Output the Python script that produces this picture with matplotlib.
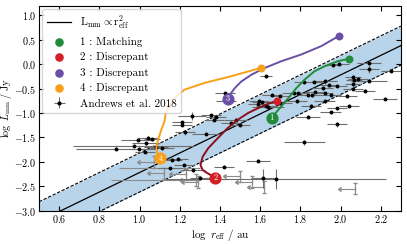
import matplotlib.pyplot as plt
import numpy as np

plt.rcParams.update({
    "font.family": "serif",
    "font.serif": ["cmr10"],
    "mathtext.fontset": "cm",
    "axes.formatter.use_mathtext": True,
    "font.size": 8,
    "axes.unicode_minus": True,
})

# relation L_mm ~ r_eff^2 and its scatter band
rel_slope = 2.0
rel_icpt = -4.22
rel_scatter = 0.4

# Andrews et al. 2018 detections: log r_eff, log L_mm, xerr, yerr
det_x = [1.99, 1.96, 2.14, 2.14, 2.25, 1.92, 1.94, 1.91, 1.87, 1.98, 2.06, 2.065, 2.085, 2.14,
         2.06, 2.06, 2.12, 2.03, 2.22, 1.84, 1.86, 1.92, 1.92, 2.04, 1.98, 1.95, 1.855, 1.84,
         1.98, 1.82, 1.82, 1.63, 1.43, 1.595, 1.61, 1.77, 1.79, 1.785, 1.875, 1.95, 1.64, 1.66,
         1.70, 1.70, 1.59, 1.63, 1.425, 1.26, 1.21, 1.355, 1.37, 1.48, 1.50, 1.38, 1.21, 1.225,
         1.33, 1.455, 0.99, 1.03, 0.97, 1.04, 1.06, 0.885, 0.995, 1.025, 1.08, 1.11, 1.19, 1.22,
         1.265, 1.30, 1.42, 1.39, 1.587, 1.615, 1.677, 1.16, 1.15]
det_y = [0.01, -0.02, 0.03, -0.10, -0.13, -0.35, -0.43, -0.49, -0.36, -0.44, -0.26, -0.33, -0.30, -0.34,
         -0.41, -0.50, -0.54, -0.65, -0.71, -0.63, -0.64, -0.60, -0.76, -0.85, -0.90, -0.99, -0.85, -1.08,
         -1.23, -1.60, -0.37, -0.25, -0.76, -0.75, -0.78, -0.59, -0.60, -0.76, -0.56, -0.63, -0.87, -0.63,
         -0.65, -0.80, -0.81, -0.85, -0.59, -1.07, -1.19, -1.05, -1.14, -1.14, -1.24, -1.08, -1.24, -1.40,
         -1.43, -1.21, -1.55, -1.62, -1.67, -1.51, -1.54, -1.73, -1.73, -1.80, -1.70, -1.72, -1.94, -2.06,
         -2.17, -2.33, -2.10, -2.36, -1.98, -2.34, -2.35, -1.96, -2.13]
det_xerr = [0.05, 0.04, 0.06, 0.05, 0.05, 0.06, 0.04, 0.05, 0.06, 0.05, 0.04, 0.04, 0.05, 0.09,
            0.04, 0.05, 0.05, 0.05, 0.06, 0.05, 0.04, 0.04, 0.05, 0.05, 0.05, 0.05, 0.05, 0.06,
            0.05, 0.10, 0.05, 0.03, 0.05, 0.05, 0.05, 0.06, 0.05, 0.05, 0.05, 0.05, 0.08, 0.05,
            0.05, 0.06, 0.05, 0.05, 0.05, 0.07, 0.05, 0.05, 0.05, 0.06, 0.05, 0.05, 0.05, 0.05,
            0.07, 0.05, 0.08, 0.07, 0.30, 0.05, 0.04, 0.20, 0.05, 0.05, 0.06, 0.06, 0.05, 0.05,
            0.06, 0.05, 0.05, 0.05, 0.06, 0.06, 0.55, 0.05, 0.06]
det_yerr = [0.03, 0.03, 0.05, 0.08, 0.03, 0.05, 0.03, 0.03, 0.03, 0.03, 0.03, 0.03, 0.03, 0.03,
            0.03, 0.03, 0.03, 0.03, 0.03, 0.03, 0.03, 0.03, 0.03, 0.03, 0.03, 0.03, 0.03, 0.03,
            0.05, 0.05, 0.03, 0.03, 0.03, 0.03, 0.03, 0.03, 0.03, 0.03, 0.03, 0.03, 0.03, 0.03,
            0.03, 0.03, 0.03, 0.03, 0.03, 0.08, 0.03, 0.03, 0.03, 0.03, 0.03, 0.03, 0.03, 0.05,
            0.03, 0.03, 0.03, 0.03, 0.03, 0.03, 0.03, 0.03, 0.03, 0.03, 0.03, 0.03, 0.03, 0.03,
            0.03, 0.03, 0.03, 0.03, 0.03, 0.20, 0.20, 0.03, 0.03]

# faint detections with wide size errors (grey)
faint_x = [1.10, 1.08]
faint_y = [-2.13, -2.37]
faint_xerr = [0.20, 0.22]

# upper limits on r_eff
lim_x = [1.07, 1.12, 1.23, 1.28, 1.29, 1.56, 1.62, 2.07, 1.50]
lim_y = [-2.00, -2.24, -2.26, -2.38, -2.42, -2.41, -2.51, -2.55, -2.30]

# model tracks (log r_eff, log L_mm), start -> end
trk1_x = [1.657, 1.705, 1.747, 1.780, 1.821, 1.870, 1.920, 1.986, 2.040]
trk1_y = [-1.093, -0.866, -0.660, -0.490, -0.317, -0.146, -0.043, 0.060, 0.109]
trk2_x = [1.377, 1.339, 1.314, 1.303, 1.314, 1.342, 1.389, 1.438, 1.488, 1.540, 1.590, 1.628, 1.682]
trk2_y = [-2.327, -2.237, -2.170, -2.066, -1.895, -1.720, -1.516, -1.310, -1.140, -1.000, -0.900, -0.830, -0.749]
trk3_x = [1.441, 1.449, 1.474, 1.507, 1.557, 1.623, 1.705, 1.804, 1.903, 1.990]
trk3_y = [-0.714, -0.626, -0.488, -0.352, -0.214, -0.077, 0.060, 0.198, 0.368, 0.574]
trk4_x = [1.104, 1.090, 1.083, 1.092, 1.108, 1.124, 1.130, 1.144, 1.174, 1.223, 1.322, 1.454, 1.603]
trk4_y = [-1.930, -1.850, -1.722, -1.551, -1.346, -1.170, -1.000, -0.900, -0.694, -0.523, -0.385, -0.249, -0.077]

tracks = [
    (trk1_x, trk1_y, "#218a3c", "#218a3c", "1 : Matching"),
    (trk2_x, trk2_y, "#8b0f1e", "#d41f26", "2 : Discrepant"),
    (trk3_x, trk3_y, "#6a4fa5", "#6a4fa5", "3 : Discrepant"),
    (trk4_x, trk4_y, "#f9a01b", "#f9a01b", "4 : Discrepant"),
]


def main() -> None:
    fig = plt.figure(figsize=(4.07, 2.44), dpi=100)
    ax = fig.add_axes([0.096, 0.137, 0.889, 0.84])

    xx = np.array([0.5, 2.3])
    yc = rel_slope * xx + rel_icpt
    ax.fill_between(xx, yc - rel_scatter, yc + rel_scatter, color="#b8d4ea", lw=0, zorder=1)
    ax.plot(xx, yc, "-k", lw=0.9, zorder=2, label=r"$\mathrm{L_{mm}} \propto \mathrm{r_{eff}^2}$")
    ax.plot(xx, yc + rel_scatter, "--k", lw=0.8, dashes=(3, 1.5), zorder=2)
    ax.plot(xx, yc - rel_scatter, "--k", lw=0.8, dashes=(3, 1.5), zorder=2)

    grey = "#8c8c8c"
    ax.errorbar(lim_x, lim_y, xerr=0.07, yerr=0.12, xuplims=True, fmt="none",
                ecolor=grey, color=grey, elinewidth=0.8, capsize=1.3, zorder=3)
    ax.errorbar(faint_x, faint_y, xerr=faint_xerr, fmt="none", ecolor=grey,
                elinewidth=0.8, capsize=0, zorder=3)
    ax.errorbar(det_x, det_y, xerr=det_xerr, yerr=det_yerr, fmt="o", ms=1.8, color="k",
                ecolor="#6e6e6e", elinewidth=0.8, capsize=0, zorder=4, label="Andrews et al. 2018")

    for i, (tx, ty, lc, dc, lab) in enumerate(tracks):
        ax.plot(tx, ty, "-", color=lc, lw=1.4, zorder=5)
        ax.scatter(tx[-1], ty[-1], s=22, color=dc, zorder=6, label=lab)
        ax.scatter(tx[0], ty[0], s=60, color=dc, zorder=6)
        ax.text(tx[0], ty[0], str(i + 1), color="white", fontsize=6, ha="center", va="center",
                zorder=7)

    ax.set_xlim(0.5, 2.3)
    ax.set_ylim(-3.0, 1.2)
    ax.set_xticks(np.arange(0.6, 2.21, 0.2))
    ax.set_yticks(np.arange(-3.0, 1.01, 0.5))
    ax.xaxis.set_major_formatter(plt.FormatStrFormatter("$%.1f$"))
    ax.yaxis.set_major_formatter(plt.FormatStrFormatter("$%.1f$"))
    ax.tick_params(direction="in", top=True, right=True, length=3.5, width=0.8, pad=2,
                   labelsize=7.3)
    ax.set_xlabel(r"$\log\ r_\mathrm{eff}\ /\ \mathrm{au}$", labelpad=1)
    ax.set_ylabel(r"$\log\ L_\mathrm{mm}\ /\ \mathrm{Jy}$", fontsize=7.3)
    ax.yaxis.set_label_coords(-0.068, 0.5)

    ax.legend(loc="upper left", borderaxespad=0.3, handlelength=2.2, labelspacing=0.5,
              fontsize=8, markerscale=1.1)

    fig.savefig("out.png", dpi=100)


if __name__ == "__main__":
    main()
